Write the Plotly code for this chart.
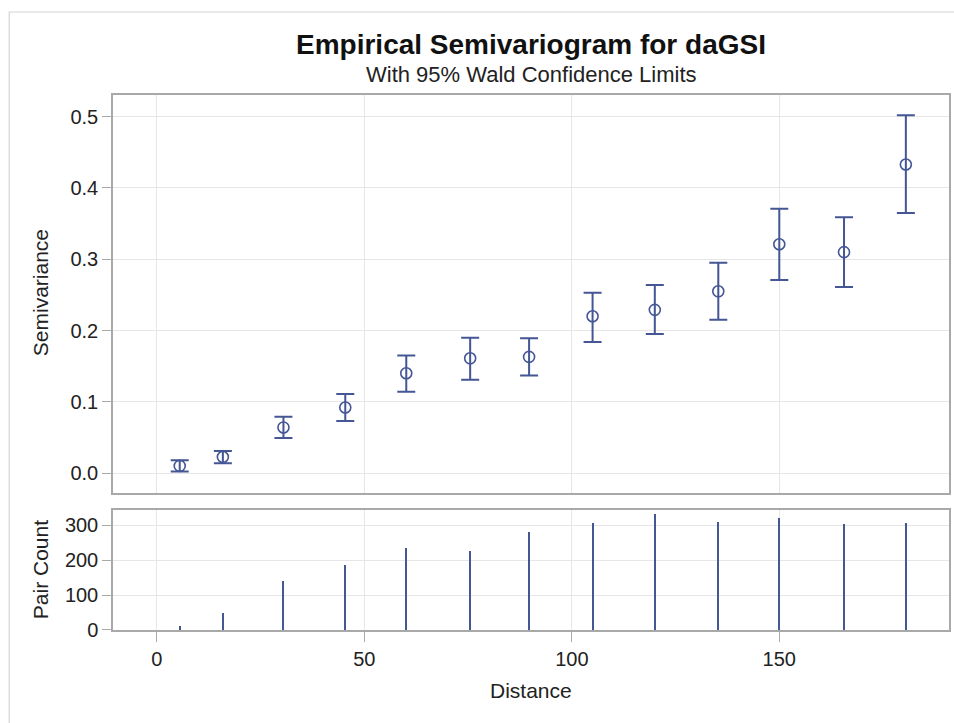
import plotly.graph_objects as go

# Lag distances (average distance per lag class)
distance = [5.5, 15.9, 30.5, 45.4, 60.1, 75.5, 89.7, 105.0, 120.0, 135.3, 150.0, 165.6, 180.5]
# Empirical semivariance and 95% Wald confidence limits
semivariance = [0.010, 0.0225, 0.064, 0.092, 0.140, 0.161, 0.163, 0.220, 0.229, 0.255, 0.321, 0.310, 0.433]
lower_cl = [0.002, 0.0136, 0.049, 0.073, 0.114, 0.131, 0.137, 0.184, 0.195, 0.215, 0.271, 0.261, 0.365]
upper_cl = [0.018, 0.031, 0.079, 0.111, 0.165, 0.190, 0.189, 0.253, 0.264, 0.295, 0.371, 0.359, 0.502]
# Number of point pairs in each lag class
pair_count = [12, 50, 141, 185, 233, 227, 281, 307, 331, 308, 319, 304, 305]

x_ticks = [0, 50, 100, 150]
semi_ticks = [0.0, 0.1, 0.2, 0.3, 0.4, 0.5]
semi_labels = ["0.0", "0.1", "0.2", "0.3", "0.4", "0.5"]
count_ticks = [0, 100, 200, 300]

BLUE = "#445694"
GRID = "#e6e6e6"
FRAME = "#a9a9a9"
FONT = "Liberation Sans, Arial, sans-serif"
TEXT = "#222222"

err_plus = [u - s for u, s in zip(upper_cl, semivariance)]
err_minus = [s - l for s, l in zip(semivariance, lower_cl)]

fig = go.Figure()

fig.add_trace(go.Scatter(
    x=distance, y=semivariance, mode="markers",
    marker=dict(symbol="circle-open", size=11, color=BLUE, line=dict(width=1.6, color=BLUE)),
    error_y=dict(type="data", symmetric=False, array=err_plus, arrayminus=err_minus,
                 width=9, thickness=2, color=BLUE),
    xaxis="x", yaxis="y", showlegend=False, hoverinfo="x+y",
))

fig.add_trace(go.Bar(
    x=distance, y=pair_count, width=0.5,
    marker=dict(color=BLUE, line=dict(width=0)),
    xaxis="x2", yaxis="y2", showlegend=False,
))

x_range = [-10.58, 190.9]
axis_common = dict(
    showline=True, linecolor=FRAME, linewidth=1.5, mirror=True,
    showgrid=True, gridcolor=GRID, gridwidth=1, zeroline=False,
    tickfont=dict(family=FONT, size=20, color=TEXT),
    ticks="outside", tickcolor=FRAME, ticklen=9, tickwidth=1.2,
)

fig.update_layout(
    width=954, height=723,
    margin=dict(l=113, r=3, t=95, b=93),
    paper_bgcolor="white", plot_bgcolor="white",
    font=dict(family=FONT, color=TEXT),
    bargap=0,
    xaxis=dict(axis_common, domain=[0, 1], range=x_range, tickvals=x_ticks,
               showticklabels=False, ticks="", anchor="y", matches="x2"),
    yaxis=dict(axis_common, domain=[0.2561, 1], range=[-0.028, 0.5305],
               tickvals=semi_ticks, ticktext=semi_labels, anchor="x"),
    xaxis2=dict(axis_common, domain=[0, 1], range=x_range, tickvals=x_ticks,
                anchor="y2", ticklen=10),
    yaxis2=dict(axis_common, domain=[0, 0.2243], range=[0, 343],
                tickvals=count_ticks, anchor="x2"),
    annotations=[
        dict(text="<b>Empirical Semivariogram for daGSI</b>", xref="paper", yref="paper",
             x=0.5, y=1.0935, xanchor="center", yanchor="middle", showarrow=False,
             font=dict(family=FONT, size=28, color="#111111")),
        dict(text="With 95% Wald Confidence Limits", xref="paper", yref="paper",
             x=0.5, y=1.0374, xanchor="center", yanchor="middle", showarrow=False,
             font=dict(family=FONT, size=22, color=TEXT)),
        dict(text="Semivariance", xref="paper", yref="paper",
             x=-0.0871, y=(630 - 293) / 535, xanchor="center", yanchor="middle",
             textangle=-90, showarrow=False, font=dict(family=FONT, size=21, color=TEXT)),
        dict(text="Pair Count", xref="paper", yref="paper",
             x=-0.0871, y=(630 - 570) / 535, xanchor="center", yanchor="middle",
             textangle=-90, showarrow=False, font=dict(family=FONT, size=21, color=TEXT)),
        dict(text="Distance", xref="paper", yref="paper",
             x=(532 - 113) / 838, y=(630 - 690) / 535, xanchor="center", yanchor="middle",
             showarrow=False, font=dict(family=FONT, size=21, color=TEXT)),
    ],
    shapes=[
        dict(type="rect", xref="paper", yref="paper", x0=-0.1241, y0=-0.3, x1=1.2, y1=1.1551,
             line=dict(color="#d4d4d4", width=1.2), layer="below"),
    ],
)

fig.write_html("out.html")
